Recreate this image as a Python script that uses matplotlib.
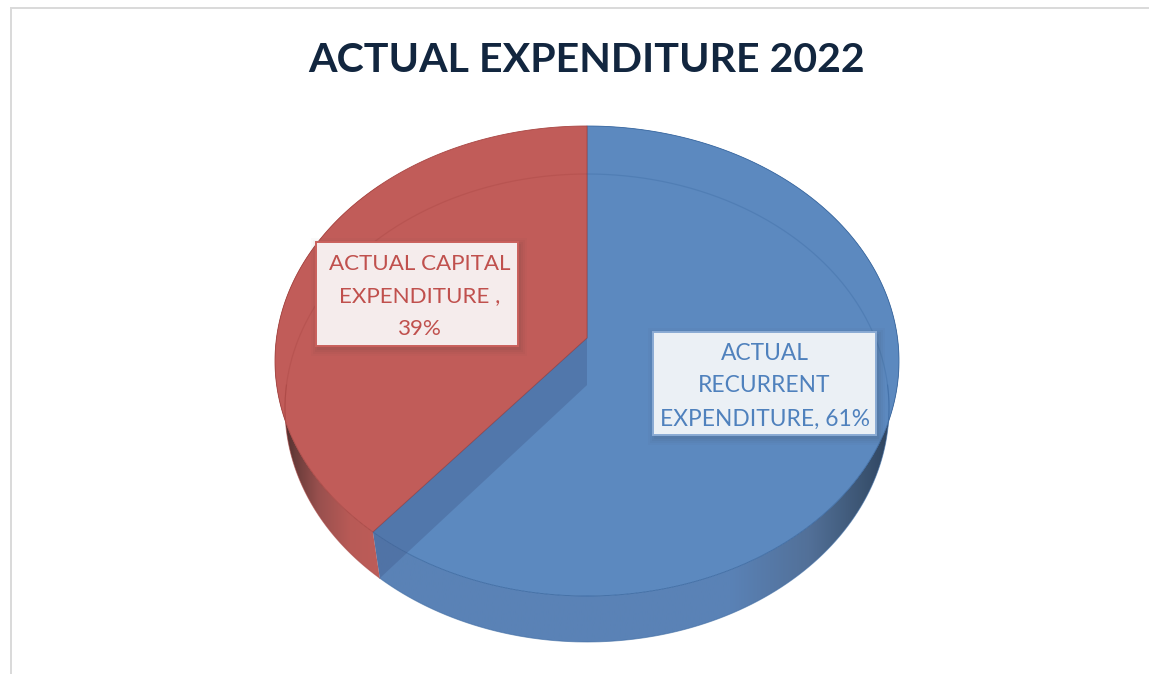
import numpy as np
from matplotlib import pyplot as plt
from matplotlib.colors import LinearSegmentedColormap
from matplotlib.patches import Polygon, Rectangle

plt.rcParams["font.family"] = ["Lato", "DejaVu Sans"]

title = "ACTUAL EXPENDITURE 2022"
labels = ["ACTUAL\nRECURRENT\nEXPENDITURE, 61%", "ACTUAL CAPITAL\nEXPENDITURE ,\n39%"]
shares = [61, 39]
top_colors = ["#5c89bf", "#c15c59"]
edge_colors = ["#3c6aa2", "#a84643"]
text_colors = ["#4f81bd", "#c0504d"]
box_colors = ["#ebf0f5", "#f5ecec"]
box_edges = ["#8aabd4", "#c9605c"]
label_sizes = [16.4, 16.1]

# the pie sits in pixel coordinates, top face and bottom face are two ellipses
cx = 587
top_cy, top_rx, top_ry = 361, 312, 235
bot_cy, bot_rx, bot_ry = 408, 302, 234
persp = 0.098  # moves the pie centre towards the back


def project(theta, cy, rx, ry):
    # theta in degrees, clockwise from 12 o'clock
    u = np.sin(np.radians(theta))
    v = np.cos(np.radians(theta))
    d = 1 + persp * v
    return cx + rx * u * np.sqrt(1 - persp ** 2) / d, cy - ry * (v + persp) / d


def arc(start, stop, cy, rx, ry):
    x, y = project(np.linspace(start, stop, 200), cy, rx, ry)
    return np.column_stack([x, y])


fig = plt.figure(figsize=(11.49, 6.74), dpi=100)
ax = fig.add_axes([0, 0, 1, 1])
ax.set_xlim(0, 1149)
ax.set_ylim(674, 0)
ax.set_autoscale_on(False)
ax.axis("off")

# chart frame, only top and left are in the crop
ax.plot([11, 11, 1149], [674, 7.5, 7.5], color="#d9d9d9", lw=1.4, solid_joinstyle="miter")

ax.text(586.5, 60, title, ha="center", va="center", fontsize=29.6, fontweight="bold", color="#12263f")

split = 360 * shares[0] / sum(shares)
ranges = [(0, split), (split, 360)]

# side walls with the dark fall off towards the ends
wall_stops = [
    [(0.0, "#5a82b6"), (0.68, "#5a82b6"), (0.83, "#527098"), (0.93, "#3c5573"), (1.0, "#2a3f5b")],
    [(0.0, "#3a2322"), (0.2, "#6a3c3a"), (0.42, "#99504e"), (0.72, "#b85a56"), (1.0, "#bd5d59")],
]
wall_extent = [(372, 900), (274, 380)]
for i in range(2):
    start, stop = ranges[i]
    pts = np.vstack([arc(start, stop, top_cy, top_rx, top_ry), arc(stop, start, bot_cy, bot_rx, bot_ry)])
    clip = Polygon(pts, closed=True, transform=ax.transData, facecolor="none", edgecolor="none")
    ax.add_patch(clip)
    cmap = LinearSegmentedColormap.from_list("wall", wall_stops[i])
    im = ax.imshow(np.linspace(0, 1, 256).reshape(1, -1), cmap=cmap, aspect="auto",
                   extent=[wall_extent[i][0], wall_extent[i][1], 660, 100], zorder=1)
    im.set_clip_path(clip)

# top faces
for i in range(2):
    start, stop = ranges[i]
    apex = (cx, top_cy - top_ry * persp)
    pts = np.vstack([[apex], arc(start, stop, top_cy, top_rx, top_ry)])
    ax.add_patch(Polygon(pts, closed=True, facecolor=top_colors[i], edgecolor=edge_colors[i], lw=0.6, zorder=2))

# outer edge of the bottom
for i in range(2):
    start, stop = ranges[i]
    if i == 0:
        pts = arc(start + 90, stop, bot_cy, bot_rx, bot_ry)
    else:
        pts = arc(start, stop - 90, bot_cy, bot_rx, bot_ry)
    ax.plot(pts[:, 0], pts[:, 1], color=edge_colors[i], lw=0.7, alpha=0.6, zorder=2.1)

# bottom face seen through the top
for i in range(2):
    start, stop = ranges[i]
    if i == 0:
        pts = arc(0, 100, bot_cy, bot_rx, bot_ry)
    else:
        pts = arc(262, 360, bot_cy, bot_rx, bot_ry)
    ax.plot(pts[:, 0], pts[:, 1], color=edge_colors[i], lw=0.9, alpha=0.35, zorder=2.2)

# inner wall of the blue slice shows through
band = np.vstack([
    [(cx, top_cy - top_ry * persp)],
    arc(split, split, top_cy, top_rx, top_ry),
    arc(split, split, bot_cy, bot_rx, bot_ry),
    [(cx, bot_cy - bot_ry * persp)],
])
ax.add_patch(Polygon(band, closed=True, facecolor="#445f90", edgecolor="none", alpha=0.42, zorder=2.3))

# data labels
boxes = [(653, 332, 223, 103), (316, 242, 202, 104)]
line_y = [[353, 386, 419], [264, 296, 329]]
for i in range(2):
    x, y, w, h = boxes[i]
    for grow, a in [(7, 0.025), (5, 0.03), (3, 0.04), (1, 0.05)]:
        ax.add_patch(Rectangle((x - grow + 2, y - grow + 3), w + 2 * grow, h + 2 * grow, facecolor="#333333",
                               edgecolor="none", alpha=a, zorder=3))
    ax.add_patch(Rectangle((x, y), w, h, facecolor=box_colors[i], edgecolor=box_edges[i], lw=1.4, zorder=4))
    for line, ly in zip(labels[i].split("\n"), line_y[i]):
        ax.text(x + w / 2 + (3 if i else 0), ly, line, ha="center", va="center", fontsize=label_sizes[i],
                color=text_colors[i], zorder=5)

fig.savefig("out.png", dpi=100)
